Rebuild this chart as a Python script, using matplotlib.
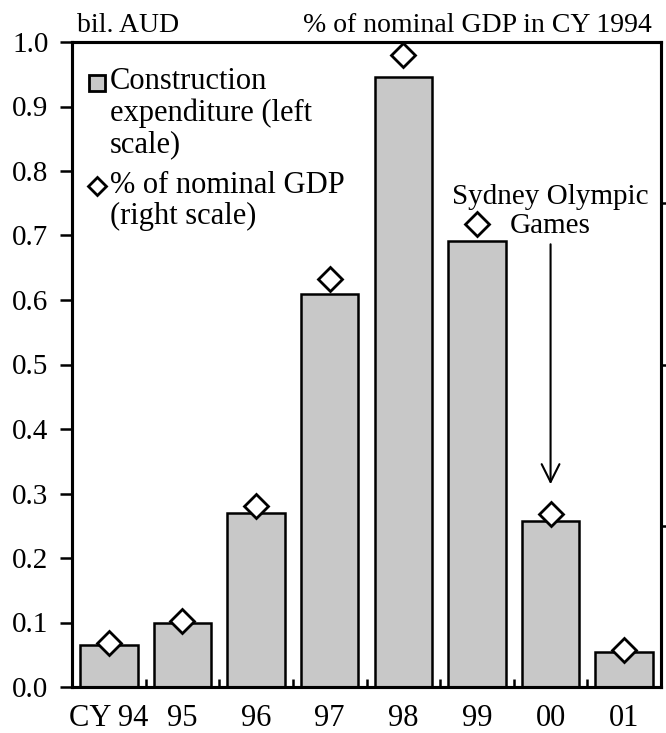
import numpy as np
import matplotlib.pyplot as plt

plt.rcParams['font.family'] = ['Liberation Serif', 'DejaVu Serif']

# data
years = ['CY 94', '95', '96', '97', '98', '99', '00', '01']
construction = [0.065, 0.100, 0.270, 0.610, 0.945, 0.692, 0.257, 0.055]   # bil. AUD (left)
gdp_share = [0.027, 0.041, 0.112, 0.253, 0.392, 0.287, 0.107, 0.023]     # % of GDP (right)

x = np.arange(len(years))

fig = plt.figure(figsize=(6.66, 7.33), dpi=100)
ax = fig.add_axes([72 / 666, 46 / 733, 589 / 666, 645 / 733])

ax.bar(x, construction, width=0.78, color='#c8c8c8', edgecolor='black', linewidth=1.8, zorder=2)
ax.set_xlim(-0.5, len(years) - 0.5)
ax.set_ylim(0, 1.0)
ax.set_yticks(np.arange(0, 1.01, 0.1))
ax.set_yticklabels([f'{v:.1f}' for v in np.arange(0, 1.01, 0.1)])
ax.set_xticks(x)
ax.set_xticklabels(years)
ax.set_xticks(x[:-1] + 0.5, minor=True)
ax.tick_params(axis='y', direction='out', length=9, width=1.8, labelsize=21, pad=8)
ax.tick_params(axis='x', which='major', length=0, labelsize=22, pad=12)
ax.tick_params(axis='x', which='minor', direction='in', length=6, width=1.8)
for s in ax.spines.values():
    s.set_linewidth(2.2)

ax2 = ax.twinx()
ax2.set_ylim(0, 0.4)
ax2.set_yticks([0.1, 0.2, 0.3])
ax2.set_yticklabels([])
ax2.tick_params(axis='y', direction='out', length=9, width=1.8)
for s in ax2.spines.values():
    s.set_linewidth(2.2)
ax2.plot(x, gdp_share, linestyle='none', marker='D', markersize=12,
         markerfacecolor='white', markeredgecolor='black', markeredgewidth=2, zorder=3)

# headers
ax.text(0.008, 1.006, 'bil. AUD', transform=ax.transAxes, fontsize=20, ha='left', va='bottom')
ax.text(0.985, 1.006, '% of nominal GDP in CY 1994', transform=ax.transAxes,
        fontsize=20, ha='right', va='bottom')

# legend drawn by hand
ax.plot([0.043], [0.936], transform=ax.transAxes, marker='s', markersize=12,
        markerfacecolor='#c8c8c8', markeredgecolor='black', markeredgewidth=2, clip_on=False)
ax.text(0.064, 0.961, 'Construction\nexpenditure (left\nscale)', transform=ax.transAxes,
        fontsize=22, ha='left', va='top', linespacing=1.1)
ax.plot([0.043], [0.776], transform=ax.transAxes, marker='D', markersize=9,
        markerfacecolor='white', markeredgecolor='black', markeredgewidth=2, clip_on=False)
ax.text(0.064, 0.800, '% of nominal GDP\n(right scale)', transform=ax.transAxes,
        fontsize=22, ha='left', va='top', linespacing=1.1)

# Olympic annotation
ax.annotate('Sydney Olympic\nGames', xy=(6, 0.31), xytext=(6, 0.695),
            fontsize=21, ha='center', va='bottom', linespacing=1.15,
            arrowprops=dict(arrowstyle='->', color='black', lw=1.5, mutation_scale=32))

fig.savefig('out.png', dpi=100)
